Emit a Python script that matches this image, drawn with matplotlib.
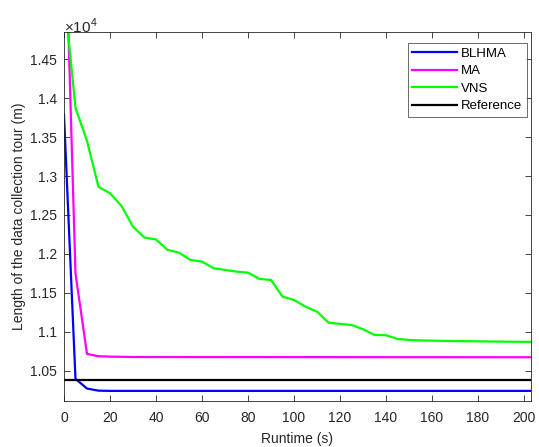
import numpy as np
import matplotlib
matplotlib.use("Agg")
import matplotlib.pyplot as plt

plt.rcParams['font.family'] = ['Liberation Sans', 'DejaVu Sans']
plt.rcParams['mathtext.fontset'] = 'custom'
plt.rcParams['mathtext.rm'] = 'Liberation Sans'

# runtime samples (s), every 5 s
t_fast = [0, 5, 10, 15, 20, 25, 30, 205]
blhma = [13790, 10395, 10270, 10243, 10240, 10240, 10240, 10240]
ma = [16800, 11750, 10715, 10685, 10680, 10678, 10675, 10672]

t_vns = [0, 5, 10, 15, 20, 25, 30, 35, 40, 45, 50, 55, 60, 65, 70, 75, 80, 85,
         90, 95, 100, 105, 110, 115, 120, 125, 130, 135, 140, 145, 150, 155,
         160, 170, 180, 190, 200, 205]
vns = [15350, 13876, 13452, 12861, 12780, 12616, 12350, 12209, 12186, 12051,
       12016, 11922, 11901, 11816, 11794, 11772, 11759, 11678, 11665, 11451,
       11408, 11322, 11258, 11117, 11100, 11087, 11032, 10959, 10955, 10907,
       10894, 10888, 10885, 10880, 10876, 10873, 10870, 10869]

t_ref = [0, 205]
reference = [10385, 10385]

ytick_vals = [10500, 11000, 11500, 12000, 12500, 13000, 13500, 14000, 14500]
ytick_labels = ['1.05', '1.1', '1.15', '1.2', '1.25', '1.3', '1.35', '1.4', '1.45']
xtick_vals = [0, 20, 40, 60, 80, 100, 120, 140, 160, 180, 200]

gray = (0.15, 0.15, 0.15)

fig = plt.figure(figsize=(5.39, 4.47), dpi=100)
ax = fig.add_axes([0.1187, 0.1029, 0.8664, 0.8255])

ax.plot(t_fast, blhma, color=(0, 0, 1), lw=1.6, label='BLHMA')
ax.plot(t_fast, ma, color=(1, 0, 1), lw=1.6, label='MA')
ax.plot(t_vns, vns, color=(0, 1, 0), lw=1.6, label='VNS')
ax.plot(t_ref, reference, color='k', lw=1.6, label='Reference')

ax.set_xlim(0, 203)
ax.set_ylim(10110, 14850)
ax.set_xticks(xtick_vals)
ax.set_yticks(ytick_vals)
ax.set_yticklabels(ytick_labels)

ax.tick_params(direction='in', top=True, right=True, labelsize=10,
               colors=gray, length=4, width=0.6)
ax.tick_params(axis='x', pad=7)
ax.tick_params(axis='y', pad=5)
for s in ax.spines.values():
    s.set_color(gray)
    s.set_linewidth(0.6)

ax.set_xlabel('Runtime (s)', fontsize=10, color=gray, labelpad=5)
ax.set_ylabel('Length of the data collection tour (m)', fontsize=10,
              color=gray, labelpad=3)
ax.text(0, 0.99, r'$\times10^4$', transform=ax.transAxes, fontsize=11,
        color=gray, ha='left', va='bottom')

leg = ax.legend(loc='upper right', bbox_to_anchor=(0.9914, 0.970),
                fontsize=9.5, frameon=True, fancybox=False,
                borderpad=0.35, handlelength=3.4, labelspacing=0.4,
                handletextpad=0.3, borderaxespad=0)
leg.get_frame().set_edgecolor(gray)
leg.get_frame().set_linewidth(0.6)

fig.savefig('out.png', dpi=100)
